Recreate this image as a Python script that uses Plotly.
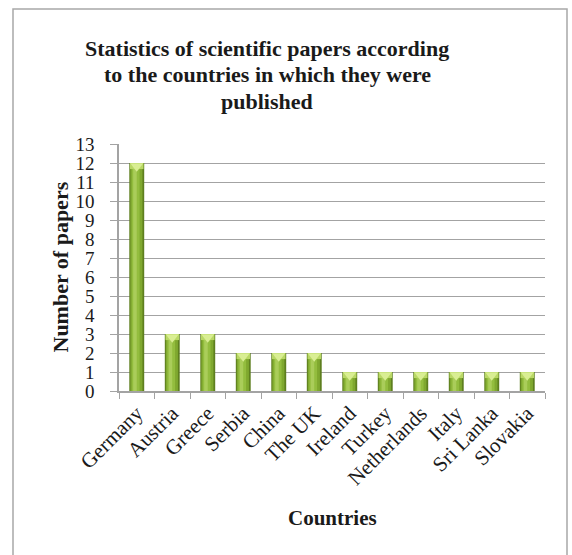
import plotly.graph_objects as go

countries = ["Germany", "Austria", "Greece", "Serbia", "China", "The UK",
             "Ireland", "Turkey", "Netherlands", "Italy", "Sri Lanka", "Slovakia"]
papers = [12, 3, 3, 2, 2, 2, 1, 1, 1, 1, 1, 1]

title_lines = ["Statistics of scientific papers according",
               "to the countries in which they were",
               "published"]
x_title = "Countries"
y_title = "Number of papers"

W, H = 572, 555
L, R, T, B = 119, 27, 144, 164
pw, ph = W - L - R, H - T - B

serif = "Liberation Serif"
grid = "#a3a3a3"
ink = "#1a1a1a"


def px_x(p):
    return (p - L) / pw


def px_y(p):
    return (H - B - p) / ph


fig = go.Figure()

# shaded cylinder-like bars built from overlaid layers
layers = [
    (0.42, 0.0, "#5e7f1f"),
    (0.34, -0.01, "#7fa82f"),
    (0.22, -0.03, "#93bd3e"),
    (0.10, -0.05, "#aacd5a"),
]
for w, off, col in layers:
    fig.add_trace(go.Bar(
        x=countries, y=papers, width=w, offset=-w / 2 + off,
        marker=dict(color=col, line=dict(width=0)),
        hoverinfo="skip", showlegend=False,
    ))

# lighter top cap
cap_h = 0.32
fig.add_trace(go.Bar(
    x=countries, y=[cap_h] * len(papers), base=[v - cap_h for v in papers],
    width=0.38, offset=-0.19,
    marker=dict(color="#b9d865", line=dict(width=0)),
    hoverinfo="skip", showlegend=False,
))
fig.add_trace(go.Scatter(
    x=countries, y=[v - 0.17 for v in papers], mode="markers",
    marker=dict(symbol="triangle-down", size=11, color="#d9ee93", line=dict(width=0)),
    hoverinfo="skip", showlegend=False,
))

bold = dict(family=serif, size=22, color=ink, weight="bold")
annotations = [
    dict(text=line, x=px_x(267), y=px_y(yc), xref="paper", yref="paper",
         showarrow=False, xanchor="center", yanchor="middle", font=bold)
    for line, yc in zip(title_lines, [48, 75, 101])
]
annotations += [
    dict(text=x_title, x=0.5, y=px_y(518), xref="paper", yref="paper",
         showarrow=False, xanchor="center", yanchor="middle",
         font=dict(family=serif, size=21, color=ink, weight="bold")),
    dict(text=y_title, x=px_x(60), y=0.5, xref="paper", yref="paper",
         showarrow=False, textangle=-90, xanchor="center", yanchor="middle",
         font=dict(family=serif, size=22, color=ink, weight="bold")),
]

fig.update_layout(
    width=W, height=H,
    margin=dict(l=L, r=R, t=T, b=B, autoexpand=False),
    paper_bgcolor="white", plot_bgcolor="white",
    barmode="overlay",
    font=dict(family=serif, color=ink),
    xaxis=dict(
        type="category", range=[-0.5, len(countries) - 0.5],
        showline=True, linecolor=grid, linewidth=1.5,
        ticks="outside", tickson="boundaries", ticklen=6, tickcolor=grid, tickwidth=1.3,
        tickangle=-45, tickfont=dict(family=serif, size=21, color=ink),
        showgrid=False, automargin=False,
    ),
    yaxis=dict(
        range=[0, 13], dtick=1, tick0=0,
        showline=True, linecolor=grid, linewidth=1.5,
        ticks="outside", ticklen=7, tickcolor=grid, tickwidth=1.3,
        ticklabelstandoff=12,
        tickfont=dict(family=serif, size=19, color=ink),
        showgrid=True, gridcolor=grid, gridwidth=1.3,
        zeroline=False, automargin=False,
    ),
    annotations=annotations,
    shapes=[
        dict(type="rect", xref="paper", yref="paper",
             x0=px_x(13), x1=px_x(567), y0=px_y(565), y1=px_y(9),
             line=dict(color="#a8a8a8", width=1.5), fillcolor="rgba(0,0,0,0)",
             layer="below"),
    ],
)

fig.write_html("out.html")
